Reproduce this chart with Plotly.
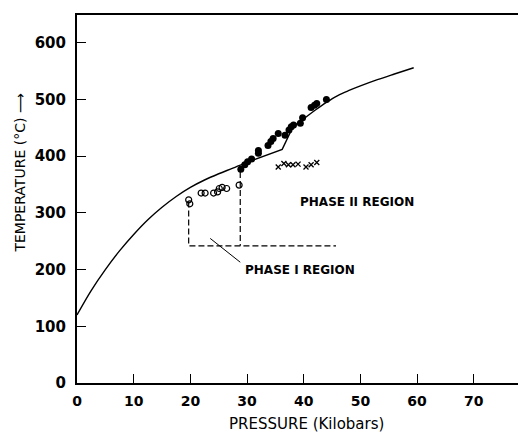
import plotly.graph_objects as go

# Melting curve
curve_lo_p = [0, 2.5, 5, 7.5, 10, 12.5, 15, 17.5, 20, 22.5, 25, 27.5, 29.4]
curve_lo_T = [120, 163, 200, 233, 262, 288, 310, 329, 345, 358, 369, 379, 387]
kink_p = [29.4, 36.2, 38.1]
kink_T = [387, 412, 452]
curve_hi_p = [38.1, 40, 42, 44, 46, 48, 50, 53, 56, 59.4]
curve_hi_T = [452, 466, 481, 495, 507, 516, 524, 535, 545, 556]

# Filled circles
filled_p = [28.9, 29.6, 30.1, 30.8, 32.0, 32.0, 33.7, 34.2, 34.6, 35.5, 36.7, 37.4,
            37.8, 38.2, 39.4, 39.8, 41.3, 41.9, 42.3, 44.0]
filled_T = [377, 385, 390, 395, 405, 410, 419, 426, 431, 440, 437, 446,
            452, 455, 458, 468, 486, 490, 493, 500]

# Open circles
open_p = [19.7, 19.9, 21.9, 22.6, 24.1, 24.8, 25.1, 25.6, 26.4, 28.6]
open_T = [323, 316, 335, 335, 335, 337, 343, 345, 343, 349]

# Crosses
cross_p = [35.5, 36.5, 37.3, 38.1, 39.0, 40.4, 41.3, 42.3]
cross_T = [381, 387, 385, 385, 386, 381, 385, 389]

# Phase boundary dashed lines
dash1_p = [19.7, 19.7, 45.7]
dash1_T = [320, 242, 242]
dash2_p = [28.8, 28.8]
dash2_T = [372, 242]

x_ticks = [0, 10, 20, 30, 40, 50, 60, 70]
y_ticks = [0, 100, 200, 300, 400, 500, 600]

FONT = "DejaVu Sans"

fig = go.Figure()
for px_, py_, shape in [(curve_lo_p, curve_lo_T, "spline"), (kink_p, kink_T, "linear"),
                        (curve_hi_p, curve_hi_T, "spline")]:
    fig.add_trace(go.Scatter(x=px_, y=py_, mode="lines",
                             line=dict(color="black", width=1.4, shape=shape),
                             hoverinfo="skip", showlegend=False))
fig.add_trace(go.Scatter(x=dash1_p, y=dash1_T, mode="lines",
                         line=dict(color="black", width=1.2, dash="6px,3px"), showlegend=False))
fig.add_trace(go.Scatter(x=dash2_p, y=dash2_T, mode="lines",
                         line=dict(color="black", width=1.2, dash="6px,3px"), showlegend=False))
fig.add_trace(go.Scatter(x=open_p, y=open_T, mode="markers",
                         marker=dict(symbol="circle-open", size=6, color="black",
                                     line=dict(width=1.2)), showlegend=False))
fig.add_trace(go.Scatter(x=cross_p, y=cross_T, mode="markers",
                         marker=dict(symbol="x-thin-open", size=5, color="black",
                                     line=dict(width=1.3, color="black")), showlegend=False))
fig.add_trace(go.Scatter(x=filled_p, y=filled_T, mode="markers",
                         marker=dict(symbol="circle", size=7, color="black"), showlegend=False))

# leader line for Phase I label
fig.add_shape(type="line", x0=23.5, y0=255, x1=28.8, y1=213,
              line=dict(color="black", width=1))

fig.add_annotation(x=29.3, y=200, text="PHASE I REGION", showarrow=False,
                   xanchor="left", yanchor="middle",
                   font=dict(family=FONT, size=12, color="#000000", weight="bold"))
fig.add_annotation(x=39.0, y=320, text="PHASE II REGION", showarrow=False,
                   xanchor="left", yanchor="middle",
                   font=dict(family=FONT, size=12, color="#000000", weight="bold"))

# axis titles
fig.add_annotation(xref="paper", yref="paper", x=(19 - 76.5) / 441.5, y=(383 - 173) / 368,
                   text="TEMPERATURE (°C) ⟶", textangle=-90, showarrow=False,
                   xanchor="center", yanchor="middle",
                   font=dict(family=FONT, size=14, color="#000000"))
fig.add_annotation(xref="paper", yref="paper", x=(306 - 76.5) / 441.5, y=(383 - 424) / 368,
                   text="PRESSURE (Kilobars)", showarrow=False,
                   xanchor="center", yanchor="middle",
                   font=dict(family=FONT, size=15, color="#000000"))

fig.update_layout(
    width=518, height=433,
    margin=dict(l=76.5, r=0, t=15, b=50),
    paper_bgcolor="white", plot_bgcolor="white",
    xaxis=dict(range=[0, 77.8], tickvals=x_ticks, ticks="inside", ticklen=9,
               tickcolor="black", tickwidth=1, showgrid=False, zeroline=False,
               showline=True, linecolor="black", linewidth=1.5, mirror=True,
               ticklabelstandoff=4,
               tickfont=dict(family=FONT, size=14, color="#000000", weight="bold")),
    yaxis=dict(range=[0, 649], tickvals=y_ticks, ticks="inside", ticklen=9,
               tickcolor="black", tickwidth=1, showgrid=False, zeroline=False,
               showline=True, linecolor="black", linewidth=2,
               ticklabelstandoff=6,
               tickfont=dict(family=FONT, size=15, color="#000000", weight="bold")),
)

fig.write_html("out.html", config={"displayModeBar": False},
               post_script="document.body.style.margin='0px';")
